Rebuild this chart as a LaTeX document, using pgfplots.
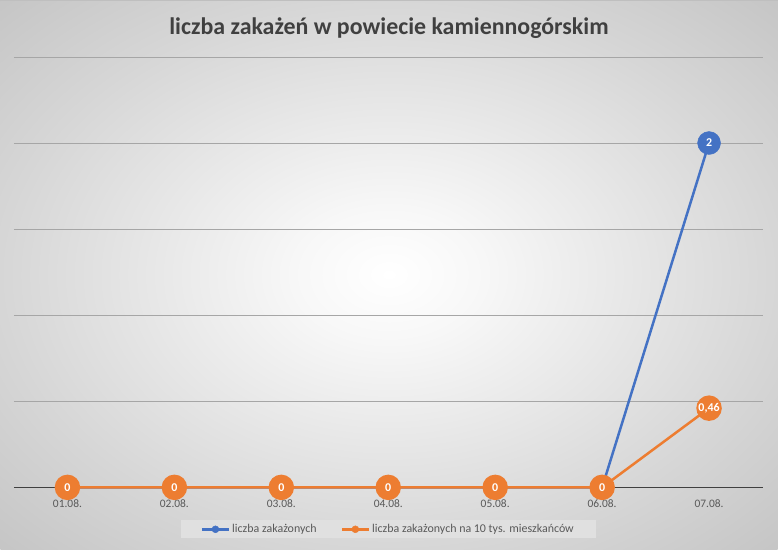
\documentclass[border=0pt]{standalone}
\usepackage{pgfplots}
\pgfplotsset{compat=1.18}
\usepackage{fontspec}
\setmainfont{Carlito}
\definecolor{blueC}{HTML}{4472C4}
\definecolor{orangeC}{HTML}{ED7D31}
\definecolor{txt}{HTML}{595959}
\definecolor{ttl}{HTML}{404040}
\pgfdeclareradialshading{bg}{\pgfpoint{0bp}{0bp}}{color(0bp)=(white); color(6bp)=(white!97!black); color(25bp)=(white!84!black); color(36bp)=(white!77!black); color(50bp)=(white!77!black)}
\begin{document}
\begin{tikzpicture}[x=1bp,y=1bp]
\shade[shading=bg] (0,0) rectangle (778,550);
\draw[black!25, line width=1bp] (0,549.5) -- (778,549.5);
\node[text=ttl, font=\bfseries\fontsize{24}{28}\selectfont] at (389,522) {liczba zakażeń w powiecie kamiennogórskim};
\begin{axis}[
  at={(13.5bp,62bp)}, anchor=south west,
  scale only axis, width=749.5bp, height=431bp,
  xmin=-0.5, xmax=6.5, ymin=0, ymax=2.5,
  clip=false,
  axis x line*=bottom, axis y line*=left,
  y axis line style={draw=none},
  x axis line style={draw=ttl, line width=1.2bp},
  xtick={0,...,6},
  xticklabels={01.08.,02.08.,03.08.,04.08.,05.08.,06.08.,07.08.},
  xtick style={draw=none},
  ytick={0.5,1,1.5,2,2.5},
  yticklabels={},
  ytick style={draw=none},
  ymajorgrids,
  grid style={draw=black!35, line width=0.8bp},
  x tick label style={font=\fontsize{11.5}{13}\selectfont, text=txt, yshift=-9bp},
  /pgf/number format/use comma,
  /pgf/number format/assume math mode=true,
  every node near coord/.append style={anchor=center, text=white, font=\bfseries\fontsize{12}{14}\selectfont},
  legend style={at={(0.5,-0.0974)}, anchor=center, legend columns=2,
    fill=white!88!black, draw=none, font=\fontsize{12}{14}\selectfont, text=txt,
    inner xsep=20bp, inner ysep=2bp,
    /tikz/every even column/.append style={column sep=22bp}},
  legend image code/.code={\draw[line width=2.5bp,#1] (0bp,0bp)--(27bp,0bp); \fill[#1] (13.5bp,0bp) circle (3.5bp);},
]
\addplot[blueC, line width=2.5bp, mark=none, forget plot] coordinates {(0,0) (1,0) (2,0) (3,0) (4,0) (5,0) (6,2)};
\addplot[orangeC, line width=2.5bp, mark=*, mark size=11.5bp, mark options={draw=none, fill=orangeC}, nodes near coords={\pgfmathprintnumber[use comma,assume math mode=true]{\pgfplotspointmeta}}, forget plot] coordinates {(0,0) (1,0) (2,0) (3,0) (4,0) (5,0) (6,0.46)};
\addplot[blueC, only marks, mark=*, mark size=11.5bp, mark options={draw=none, fill=blueC}, nodes near coords={\pgfmathprintnumber[use comma,assume math mode=true]{\pgfplotspointmeta}}, forget plot] coordinates {(6,2)};
\addlegendimage{blueC}
\addlegendentry{liczba zakażonych}
\addlegendimage{orangeC}
\addlegendentry{liczba zakażonych na 10 tys. mieszkańców}
\end{axis}
\end{tikzpicture}
\end{document}
